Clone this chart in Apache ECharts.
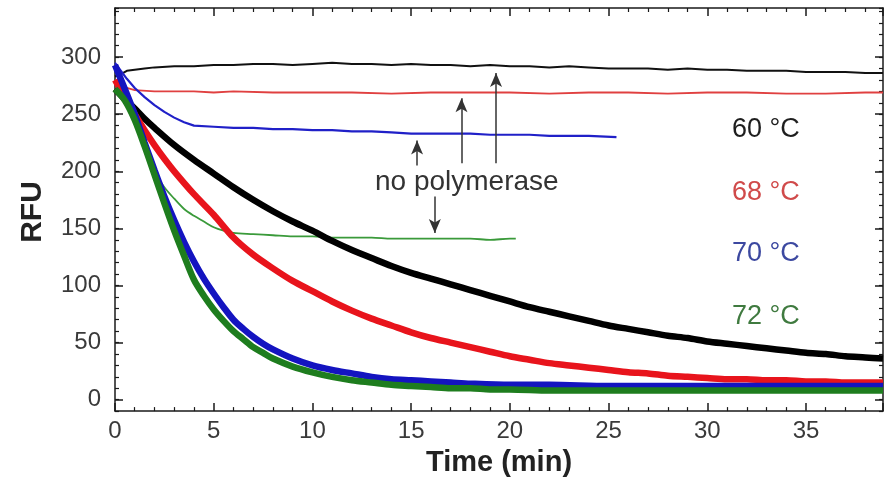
<!DOCTYPE html>
<html><head><meta charset="utf-8">
<script src="https://cdn.jsdelivr.net/npm/echarts@6/dist/echarts.min.js"></script>
<style>html,body{margin:0;padding:0;background:#fff}#c{width:893px;height:482px}</style>
</head><body><div id="c"></div>
<script>
const FONT = "'Liberation Sans', Arial, Helvetica, sans-serif";

// ---- Data ----
const yTickValues = [0, 50, 100, 150, 200, 250, 300];

// 60 °C with polymerase (thick black)
const t60 = [0,0.5,1,1.5,2,3,4,5,6,7,8,9,10,11,12,13,14,15,16,17,18,19,20,21,22,23,24,25,26,27,28,29,30,31,32,33,34,35,36,37,38,38.9];
const rfu60 = [272,263,255,246,238,223,210,198,186,175,165,156,148,139,131,124,117,111,106,101,96,91,86,81,77,73,69,65,62,59,56,54,51,49,47,45,43,41,40,38,37,36];

// 68 °C with polymerase (thick red)
const t68 = [0,0.5,1,1.5,2,2.5,3,4,5,6,7,8,9,10,11,12,13,14,15,16,17,18,19,20,21,22,23,24,25,26,27,28,29,30,31,32,33,34,35,36,37,38,38.9];
const rfu68 = [280,265,250,236,223,211,200,180,162,142,127,115,104,95,86,78,71,65,59,54,50,46,42,38,35,32,30,28,26,24,23,21,20,19,18,18,17,17,16,16,15,15,15];

// 70 °C with polymerase (thick blue)
const t70 = [0,0.5,1,1.5,2,2.5,3,3.5,4,4.5,5,5.5,6,6.5,7,7.5,8,9,10,11,12,13,14,15,16,17,18,20,22,25,28,30,33,35,38.9];
const rfu70 = [293,272,250,225,201,178,157,138,121,106,93,81,70,62,55,49,44,36,30,26,23,20,18,17,16,15,14,13,13,12,12,12,12,12,12];

// 72 °C with polymerase (thick green)
const t72 = [0,0.5,1,1.5,2,2.5,3,3.5,4,4.5,5,5.5,6,6.5,7,7.5,8,9,10,11,12,13,14,15,16,17,18,19,20,22,25,28,30,33,35,38.9];
const rfu72 = [272,262,245,222,197,172,148,126,105,91,79,69,60,53,46,41,36,29,24,20,17,15,13,12,11,10,10,9,9,8,8,8,8,8,8,8];

// no polymerase controls (thin lines)
const t60n = [0,0.3,0.6,1,1.5,2,3,4,5,6,7,8,9,10,11,12,13,14,15,16,17,18,19,20,21,22,23,24,25,26,27,28,29,30,31,32,33,34,35,36,37,38,38.9];
const rfu60n = [283,285,288,289,290,291,292,292,293,293,294,294,293,294,295,294,294,293,294,293,293,292,293,292,292,291,292,291,290,290,290,289,290,289,289,288,288,288,287,287,287,286,286];

const t68n = [0,0.3,0.6,1,2,3,4,5,6,8,10,12,14,16,18,20,22,24,26,28,30,32,34,36,38,38.9];
const rfu68n = [280,276,273,271,270,270,270,269,270,269,269,269,268,269,269,269,268,269,269,268,269,269,268,268,269,269];

const t70n = [0,0.3,0.6,1,1.5,2,2.5,3,3.5,4,5,6,7,8,9,10,11,12,13,14,15,16,17,18,19,20,21,22,23,24,25.4];
const rfu70n = [295,288,281,273,265,258,252,247,243,240,239,238,238,237,237,236,236,235,235,234,233,233,233,233,232,232,232,231,231,231,230];

const t72n = [0,0.5,1,1.5,2,2.5,3,3.5,4,4.5,5,5.5,6,7,8,9,10,11,12,13,14,15,16,17,18,19,20,20.3];
const rfu72n = [272,262,245,222,200,186,176,167,161,156,151,148,146,145,144,143,143,142,142,142,141,141,141,141,141,140,141,141];

const seriesNames = ['60 °C', '68 °C', '70 °C', '72 °C'];
const lineColors = ['#000000', '#e8141c', '#1414c0', '#1e7d1e'];
const thinColors = ['#111111', '#e04040', '#2020c8', '#3a9a3a'];
const labelColors = ['#1e1e1e', '#d04a4a', '#3c48a0', '#3f7a3f'];

function pairs(t, v) { return t.map((x, i) => [x, v[i]]); }

const chart = echarts.init(document.getElementById('c'));

const labelStyle = { color: '#3a3a3a', fontSize: 24, fontFamily: FONT };
const axisLine = () => ({ show: true, onZero: false, lineStyle: { color: '#1a1a1a', width: 1.5 } });
const majorTick = () => ({ show: true, inside: true, length: 8, lineStyle: { color: '#1a1a1a', width: 1.5 } });

const xCommon = () => ({
  type: 'value', min: 0, max: 38.9, interval: 5,
  axisLine: axisLine(),
  axisTick: majorTick(),
  minorTick: { show: true, splitNumber: 5, length: 4, lineStyle: { color: '#1a1a1a', width: 1.2 } },
  splitLine: { show: false }
});

const x0 = Object.assign(xCommon(), {
  position: 'bottom',
  name: 'Time (min)', nameLocation: 'middle', nameGap: 36,
  nameTextStyle: { color: '#222', fontSize: 29, fontWeight: 'bold', fontFamily: FONT },
  axisLabel: Object.assign({ margin: 8, showMaxLabel: false }, labelStyle)
});
const x1 = Object.assign(xCommon(), { position: 'top', axisLabel: { show: false } });

const yMajorLeft = {
  type: 'value', min: -10, max: 343, position: 'left',
  axisLine: axisLine(),
  axisTick: Object.assign(majorTick(), { customValues: yTickValues }),
  axisLabel: Object.assign({ margin: 14, customValues: yTickValues }, labelStyle),
  splitLine: { show: false }
};
const yMajorRight = {
  type: 'value', min: -10, max: 343, position: 'right',
  axisLine: axisLine(),
  axisTick: Object.assign(majorTick(), { customValues: yTickValues }),
  axisLabel: { show: false }, splitLine: { show: false }
};
const yMinor = (pos) => ({
  type: 'value', min: -10, max: 343, interval: 10, position: pos,
  axisLine: { show: false, onZero: false },
  axisTick: { show: true, inside: true, length: 4, lineStyle: { color: '#1a1a1a', width: 1.2 } },
  axisLabel: { show: false }, splitLine: { show: false }
});

const arrowStyle = { color: '#333', width: 1.5, type: 'solid' };
function arrow(x, y0, y1) { return [{ coord: [x, y0] }, { coord: [x, y1] }]; }

const option = {
  animation: false,
  grid: { left: 115, right: 10, top: 8, bottom: 70 },
  xAxis: [x0, x1],
  yAxis: [yMajorLeft, yMajorRight, yMinor('left'), yMinor('right')],
  series: [
    { name: seriesNames[0] + ' no polymerase', type: 'line', data: pairs(t60n, rfu60n), showSymbol: false, lineStyle: { color: thinColors[0], width: 2 },
      markLine: { silent: true, symbol: ['none', 'arrow'], symbolSize: [9, 14], label: { show: false }, lineStyle: arrowStyle,
        data: [arrow(15.3, 205, 227), arrow(17.55, 207, 264), arrow(19.3, 207, 286), arrow(16.2, 178, 146)] } },
    { name: seriesNames[1] + ' no polymerase', type: 'line', data: pairs(t68n, rfu68n), showSymbol: false, lineStyle: { color: thinColors[1], width: 1.8 } },
    { name: seriesNames[2] + ' no polymerase', type: 'line', data: pairs(t70n, rfu70n), showSymbol: false, lineStyle: { color: thinColors[2], width: 2.2 } },
    { name: seriesNames[3] + ' no polymerase', type: 'line', data: pairs(t72n, rfu72n), showSymbol: false, smooth: 0.3, lineStyle: { color: thinColors[3], width: 1.8 } },
    { name: seriesNames[0], type: 'line', data: pairs(t60, rfu60), showSymbol: false, smooth: 0.3, lineStyle: { color: lineColors[0], width: 6.5 } },
    { name: seriesNames[1], type: 'line', data: pairs(t68, rfu68), showSymbol: false, smooth: 0.3, lineStyle: { color: lineColors[1], width: 6.5 } },
    { name: seriesNames[2], type: 'line', data: pairs(t70, rfu70), showSymbol: false, smooth: 0.3, lineStyle: { color: lineColors[2], width: 6.5 } },
    { name: seriesNames[3], type: 'line', data: pairs(t72, rfu72), showSymbol: false, smooth: 0.3, lineStyle: { color: lineColors[3], width: 6.5 } }
  ],
  graphic: [
    { type: 'text', x: 33, y: 212, rotation: Math.PI / 2,
      style: { text: 'RFU', fill: '#222', font: 'bold 30px ' + FONT, align: 'center', verticalAlign: 'middle', textAlign: 'center', textVerticalAlign: 'middle' } },
    { type: 'text', left: 375, top: 168, style: { text: 'no polymerase', fill: '#333', font: '28px ' + FONT } },
    { type: 'text', left: 732, top: 116, style: { text: seriesNames[0], fill: labelColors[0], font: '27px ' + FONT } },
    { type: 'text', left: 732, top: 179, style: { text: seriesNames[1], fill: labelColors[1], font: '27px ' + FONT } },
    { type: 'text', left: 732, top: 240, style: { text: seriesNames[2], fill: labelColors[2], font: '27px ' + FONT } },
    { type: 'text', left: 732, top: 303, style: { text: seriesNames[3], fill: labelColors[3], font: '27px ' + FONT } }
  ]
};
chart.setOption(option);
</script>
</body></html>
